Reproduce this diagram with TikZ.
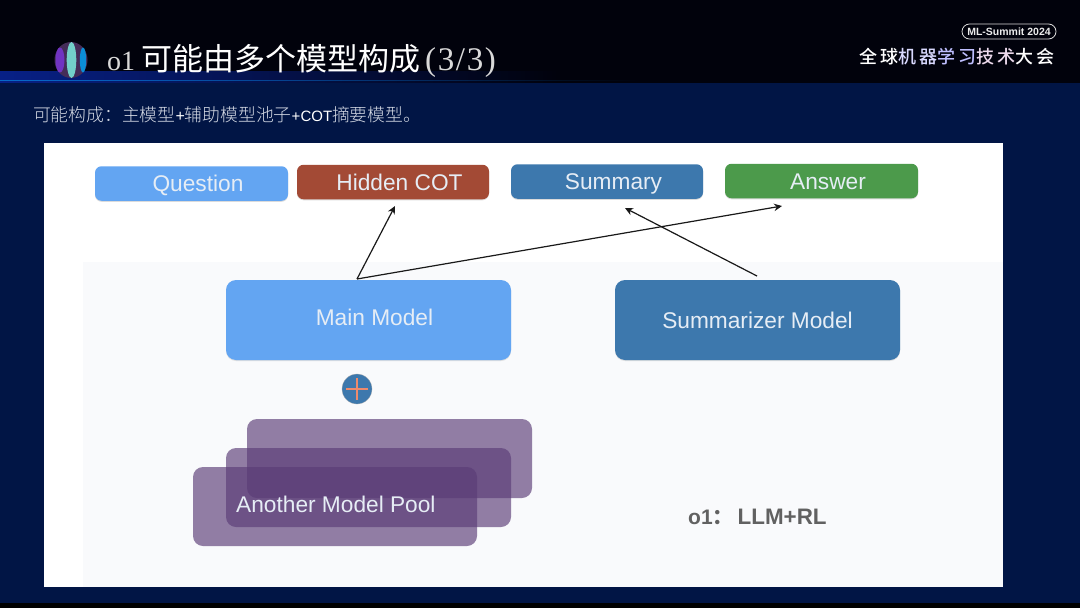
\documentclass[tikz,border=0pt]{standalone}
\usepackage{fontspec}
\setmainfont{Liberation Serif}
\setsansfont{Liberation Sans}
\newfontfamily\cjk{Noto Sans CJK SC}
\newfontfamily\cjklight{Noto Sans CJK SC Light}
\newfontfamily\cjkwide[LetterSpace=17]{Noto Sans CJK SC Medium}
\newfontfamily\serifwide[LetterSpace=5]{Liberation Serif}
\newcommand{\fs}[1]{\fontsize{#1}{#1}\selectfont}
\newcommand{\wcolon}{\char"FF1A\relax}
\usetikzlibrary{arrows.meta,shadows,fadings}
\definecolor{slidenavy}{HTML}{011545}
\definecolor{topblack}{HTML}{01020C}
\definecolor{glowblue}{HTML}{0A2BB0}
\definecolor{qblue}{HTML}{63A5F2}
\definecolor{redbrown}{HTML}{A34A35}
\definecolor{steel}{HTML}{3D78AD}
\definecolor{leaf}{HTML}{4C9A4B}
\definecolor{pool}{HTML}{5A3B76}
\definecolor{panelgrey}{HTML}{F9FAFC}
\definecolor{plusorange}{HTML}{EE8A6C}
\definecolor{subtext}{HTML}{D4D9E4}
\definecolor{softwhite}{HTML}{E6EDF5}
\tikzset{
  tagbox/.style={rounded corners=6.5pt,minimum width=192pt,minimum height=34.5pt,inner sep=0pt,text=softwhite,
    text height=16.4pt,text depth=0pt,
    font=\sffamily\fs{22.7},drop shadow={opacity=.28,shadow xshift=0pt,shadow yshift=-1pt}},
  modelbox/.style={rounded corners=10pt,minimum width=285pt,minimum height=80pt,inner sep=0pt,text=softwhite,
    text height=16.4pt,text depth=0pt,
    font=\sffamily\fs{22.7},drop shadow={opacity=.22,shadow xshift=0pt,shadow yshift=-1pt}},
  poolbox/.style={rounded corners=10pt,minimum width=285pt,minimum height=79pt,inner sep=0pt,fill=pool,fill opacity=.65},
  flow/.style={draw=black!90,line width=1.2pt,-{Stealth[length=8pt,width=7.5pt]}},
}
\begin{document}
\begin{tikzpicture}[x=1pt,y=-1pt]
\useasboundingbox (0,0) rectangle (1080,608);
% slide background
\fill[slidenavy] (0,0) rectangle (1080,608);
\fill[topblack] (0,0) rectangle (1080,83);
\fill[black] (0,603) rectangle (1080,608);
\fill[glowblue,path fading=east,opacity=.75] (0,71) rectangle (560,83);
\fill[glowblue!70!cyan,path fading=east] (0,79.5) rectangle (640,81);
% logo
\fill[pool!75!black] (71,60) ellipse (16.5 and 18);
\fill[violet!60!blue!80!white] (60,60) ellipse (4.5 and 12.5);
\fill[cyan!60!green!55!white] (71.5,60) ellipse (4.8 and 18);
\fill[cyan!75!blue] (83,60) ellipse (3.2 and 12.5);
% titles
\node[anchor=base west,inner sep=0pt,text=white] (title) at (107,70)
  {{\rmfamily\fs{28}\color{white!85!black}o1}\hspace{6pt}{\cjk\fs{31}可能由多个模型构成}\hspace{5pt}{\serifwide\fs{33}\color{white!85!black}(3/3)}};
\node[anchor=west,inner sep=0pt,text=subtext] (subtitle) at (33,115)
  {{\cjklight\fs{17.8}可能构成\wcolon 主模型}{\sffamily\fs{16}\color{white}+}{\cjklight\fs{17.8}辅助模型池子}{\sffamily\fs{15}\color{white}+COT}{\cjklight\fs{17.8}摘要模型。}};
% brand
\node[draw=white!85!black,line width=.8pt,rounded corners=7.5pt,minimum width=94pt,minimum height=15pt,inner sep=0pt,
  text=white!92!black,font=\sffamily\bfseries\fs{10.5}] (brand) at (1009,31.5) {ML-Summit 2024};
\node[anchor=west,inner sep=0pt,font=\cjkwide\fs{18}] (conf) at (859,56.5)
  {\textcolor{white}{全球}\textcolor{blue!15!white}{机器}\textcolor{blue!25!white}{学习}\textcolor{violet!15!white}{技术}\textcolor{white}{大会}};
% white panels
\fill[white] (44,143) rectangle (1003,587);
\fill[panelgrey] (83,262) rectangle (1003,587);
% top row
\node[tagbox,fill=qblue,minimum width=193pt] (question) at (191.5,183.5) {\hspace*{13pt}Question};
\node[tagbox,fill=redbrown] (hidden) at (393,182) {\hspace*{13pt}Hidden COT};
\node[tagbox,fill=steel] (summary) at (607,181.5) {\hspace*{13pt}Summary};
\node[tagbox,fill=leaf,minimum width=193pt] (answer) at (821.5,181) {\hspace*{13pt}Answer};
% models
\node[modelbox,fill=qblue] (main) at (368.5,320) {\hspace*{12pt}\raisebox{3pt}{Main Model}};
\node[modelbox,fill=steel] (summarizer) at (757.5,320) {Summarizer Model};
% plus
\node[circle,fill=steel,draw=black!30,line width=.3pt,minimum size=30pt,inner sep=0pt] (plus) at (357,389) {};
\draw[plusorange,line width=2.4pt] ([xshift=-11pt]plus.center) -- ([xshift=11pt]plus.center);
\draw[plusorange,line width=2.4pt] ([yshift=-11pt]plus.center) -- ([yshift=11pt]plus.center);
% pool
\node[poolbox] (pool3) at (389.5,458.5) {};
\node[poolbox] (pool2) at (368.5,487.5) {};
\node[poolbox,minimum width=284pt] (pool1) at (335,506.5) {};
\node[anchor=base west,inner sep=0pt,text=softwhite,font=\sffamily\fs{22.7}] (poollabel) at (236,512) {Another Model Pool};
\node[anchor=base west,inner sep=0pt,text=black!62,font=\sffamily\bfseries\fs{21}] (o1label) at (688,524.5) {o1{\cjk\wcolon}\hspace{4pt}{\fs{22.4}LLM+RL}};
% connectors
\coordinate (fork) at (357,279);
\coordinate (hiddentip) at (395,206);
\coordinate (answertip) at (782,206);
\coordinate (sumstart) at (757,276);
\coordinate (sumtip) at (625,208);
\draw[flow] (fork) -- (hiddentip);
\draw[flow] (fork) -- (answertip);
\draw[flow] (sumstart) -- (sumtip);
\end{tikzpicture}
\end{document}
